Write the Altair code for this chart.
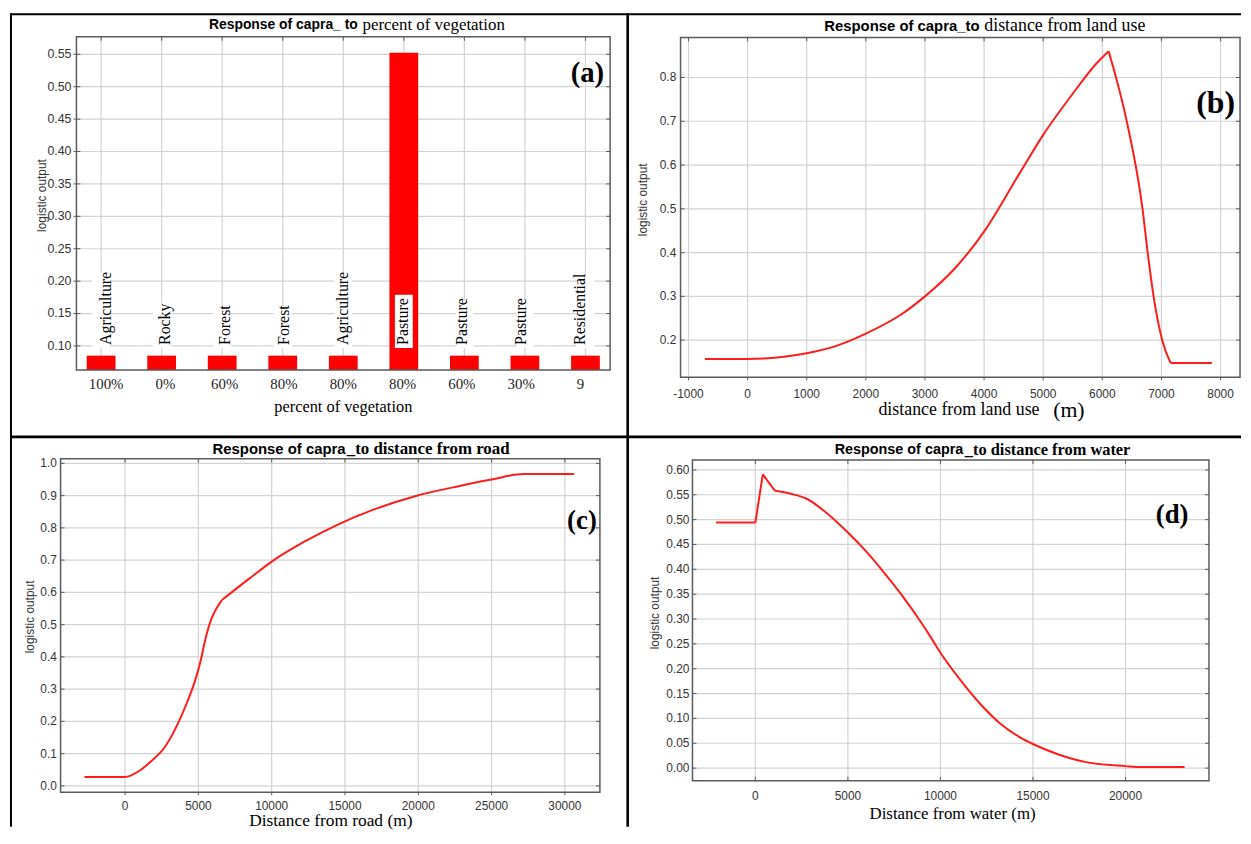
import altair as alt
import pandas as pd

# ------------------------------------------------------------------ data
A_TICK_LABELS = ["100%", "0%", "60%", "80%", "80%", "80%", "60%", "30%", "9"]
A_LAND_USE = ["Agriculture", "Rocky", "Forest", "Forest", "Agriculture",
              "Pasture", "Pasture", "Pasture", "Residential"]
A_VALUES = [0.085, 0.085, 0.085, 0.085, 0.085, 0.5525, 0.085, 0.085, 0.085]
A_BOX_TOPS = [0.214, 0.166, 0.161, 0.161, 0.214, 0.179, 0.171, 0.171, 0.207]
A_LABEL_BASE = 0.10
A_BOX_BASE = 0.097
A_Y_TICKS = [0.10, 0.15, 0.20, 0.25, 0.30, 0.35, 0.40, 0.45, 0.50, 0.55]

B_X = [-720, 0, 270, 1000, 1500, 2000, 2590, 3000, 3520, 4000, 4600, 5000,
       5500, 5900, 6107, 6413, 6680, 6767, 6867, 7013, 7153, 7853]
B_Y = [0.157, 0.157, 0.158, 0.170, 0.187, 0.215, 0.258, 0.300, 0.366, 0.448,
       0.581, 0.669, 0.763, 0.832, 0.860, 0.700, 0.500, 0.400, 0.300, 0.200,
       0.148, 0.148]
B_CORNERS = [6107, 7153]          # sharp bends seen in the curve
B_X_TICKS = [-1000, 0, 1000, 2000, 3000, 4000, 5000, 6000, 7000, 8000]
B_Y_TICKS = [0.2, 0.3, 0.4, 0.5, 0.6, 0.7, 0.8]

C_X = [-2770, 0, 950, 1790, 2740, 3560, 4240, 4780, 5190, 5400, 5730, 6603,
       8424, 10054, 12228, 14402, 16848, 19837, 22826, 25000, 27174, 30625]
C_Y = [0.0276, 0.0276, 0.046, 0.077, 0.122, 0.189, 0.260, 0.327, 0.395, 0.440,
       0.497, 0.576, 0.641, 0.697, 0.757, 0.808, 0.855, 0.899, 0.930, 0.950,
       0.967, 0.967]
C_CORNERS = [6603]
C_X_TICKS = [0, 5000, 10000, 15000, 20000, 25000, 30000]
C_Y_TICKS = [0.0, 0.1, 0.2, 0.3, 0.4, 0.5, 0.6, 0.7, 0.8, 0.9, 1.0]

D_X = [-2128, 0, 400, 1060, 1915, 2770, 3830, 5000, 5960, 6810, 7870, 8940,
       9500, 10000, 11060, 12130, 13190, 14250, 15020, 16380, 17870, 20000,
       20850, 23190]
D_Y = [0.494, 0.494, 0.591, 0.558, 0.552, 0.542, 0.514, 0.474, 0.437, 0.400,
       0.350, 0.294, 0.262, 0.232, 0.178, 0.130, 0.091, 0.063, 0.048, 0.0275,
       0.012, 0.004, 0.002, 0.002]
D_CORNERS = [0, 400, 1060]
D_X_TICKS = [0, 5000, 10000, 15000, 20000]
D_Y_TICKS = [0.00, 0.05, 0.10, 0.15, 0.20, 0.25, 0.30, 0.35, 0.40, 0.45,
             0.50, 0.55, 0.60]

TITLE_SANS = ["Response of capra_ to", "Response of capra_to",
              "Response of capra", "Response of capra"]
TITLE_SERIF = ["percent of vegetation", "distance from land use",
               "_to distance from road", "_to distance from water"]
PANEL_TAGS = ["(a)", "(b)", "(c)", "(d)"]
X_TITLES = ["percent of vegetation", "distance from land use",
            "Distance from road (m)", "Distance from water (m)"]
X_UNIT_B = "(m)"
Y_TITLE = "logistic output"

# ------------------------------------------------------------------ style
SANS = "Liberation Sans"
SERIF = "Liberation Serif"
RED = "#ff0000"
LINE_RED = "#ff1c1c"
GRID = "#d2d2d2"
FRAME = "#5a5a5a"
LABEL = "#333333"
O = 8  # page margin: all positions below are written in page pixels
ONE = pd.DataFrame({"k": [0]})


def V(v):
    return alt.value(v - O)


def qscale(domain, lo, hi):
    return alt.Scale(domain=domain, range=[lo - O, hi - O], nice=False,
                     zero=False, clamp=True)


def segments(xs, ys, corners):
    """Split a curve at its sharp bends so each piece can be smoothed."""
    bounds = [xs[0]] + list(corners) + [xs[-1]]
    rows = []
    for s in range(len(bounds) - 1):
        for x, y in zip(xs, ys):
            if bounds[s] <= x <= bounds[s + 1]:
                rows.append({"x": x, "y": y, "seg": s})
    return pd.DataFrame(rows)


def curve(xs, ys, corners, xscale, yscale):
    return alt.Chart(segments(xs, ys, corners)).mark_line(
        color=LINE_RED, strokeWidth=2, interpolate="monotone").encode(
        x=alt.X("x:Q", scale=xscale, axis=None),
        y=alt.Y("y:Q", scale=yscale, axis=None),
        detail="seg:N", order="x:Q")


def text(t, x, y, font, size, weight="normal", align="center", angle=0,
         color="black"):
    return alt.Chart(pd.DataFrame({"t": [t]})).mark_text(
        font=font, fontSize=size, fontWeight=weight, align=align,
        baseline="middle", angle=angle, color=color
    ).encode(x=V(x), y=V(y), text="t:N")


def vline(x, y1, y2, w, color="black"):
    return alt.Chart(ONE).mark_rule(color=color, strokeWidth=w).encode(
        x=V(x), y=V(y1), y2=V(y2))


def hline(y, x1, x2, w, color="black"):
    return alt.Chart(ONE).mark_rule(color=color, strokeWidth=w).encode(
        y=V(y), x=V(x1), x2=V(x2))


def frame(x0, x1, y0, y1):
    return alt.Chart(ONE).mark_rect(filled=False, color=FRAME, strokeWidth=1.5).encode(
        x=V(x0), x2=V(x1), y=V(y0), y2=V(y1))


def vgrid(values, typ, scale, y0, y1, color=GRID, w=1.2):
    return alt.Chart(pd.DataFrame({"v": values})).mark_rule(color=color, strokeWidth=w).encode(
        x=alt.X("v:" + typ, scale=scale, axis=None), y=V(y0), y2=V(y1))


def hgrid(values, scale, x0, x1, color=GRID, w=1.2):
    return alt.Chart(pd.DataFrame({"v": values})).mark_rule(color=color, strokeWidth=w).encode(
        y=alt.Y("v:Q", scale=scale, axis=None), x=V(x0), x2=V(x1))


def xlabels(values, labels, typ, scale, y, font=SANS, size=12, color=LABEL):
    return alt.Chart(pd.DataFrame({"v": values, "lab": labels})).mark_text(
        font=font, fontSize=size, color=color, baseline="middle", align="center"
    ).encode(x=alt.X("v:" + typ, scale=scale, axis=None), y=V(y), text="lab:N")


def ylabels(values, labels, scale, x_right, size=12):
    return alt.Chart(pd.DataFrame({"v": values, "lab": labels})).mark_text(
        font=SANS, fontSize=size, color=LABEL, baseline="middle", align="right"
    ).encode(y=alt.Y("v:Q", scale=scale, axis=None), x=V(x_right), text="lab:N")


def fmt(values, pattern):
    return [pattern.format(v) for v in values]


layers = []

# ------------------------------------------------------------------ panel a
AX0, AX1, AY0, AY1 = 75, 613, 31.7, 367.7
a_df = pd.DataFrame({"idx": list(range(1, 10)), "value": A_VALUES,
                     "land": A_LAND_USE, "box_top": A_BOX_TOPS})
a_df["base"] = A_LABEL_BASE
a_df["box_base"] = A_BOX_BASE
axs = alt.Scale(domain=list(range(1, 10)), range=[AX0 - O, AX1 - O],
                paddingInner=0.525, paddingOuter=0.17)
ays = qscale([0.0627, 0.577], AY1, AY0)

layers += [
    vgrid(list(range(1, 10)), "O", axs, AY0, AY1),
    hgrid(A_Y_TICKS, ays, AX0, AX1),
    alt.Chart(a_df).mark_bar(color=RED).encode(
        x=alt.X("idx:O", scale=axs, axis=None),
        y=alt.Y("value:Q", scale=ays, axis=None)),
    alt.Chart(a_df).mark_bar(color="white", size=18).encode(
        x=alt.X("idx:O", scale=axs, axis=None),
        y=alt.Y("box_top:Q", scale=ays, axis=None), y2="box_base:Q"),
    alt.Chart(a_df).mark_text(angle=270, align="left", baseline="middle",
                              font=SERIF, fontSize=16, color="black", dx=1).encode(
        x=alt.X("idx:O", scale=axs, axis=None),
        y=alt.Y("base:Q", scale=ays, axis=None), text="land:N"),
    frame(AX0, AX1, AY0, AY1),
    vgrid(list(range(1, 10)), "O", axs, AY0, AY0 + 4, FRAME, 1),
    hgrid(A_Y_TICKS, ays, AX0 - 3, AX0 + 4, FRAME, 1),
    hgrid(A_Y_TICKS, ays, AX1 - 4, AX1, FRAME, 1),
    xlabels(list(range(1, 10)), A_TICK_LABELS, "O", axs, 381.7, SERIF, 15, "#222"),
    ylabels(A_Y_TICKS, fmt(A_Y_TICKS, "{:.2f}"), ays, 70, 12.5),
    text(TITLE_SANS[0], 358.6, 20, SANS, 14, "bold", "right"),
    text(TITLE_SERIF[0], 363.4, 20, SERIF, 17, "normal", "left"),
    text(PANEL_TAGS[0], 607, 68, SERIF, 29, "bold", "right"),
    text(Y_TITLE, 40, 191.7, SANS, 12, "normal", "center", 270, LABEL),
    text(X_TITLES[0], 344, 405, SERIF, 16.5),
]

# ------------------------------------------------------------------ panel b
BX0, BX1, BY0, BY1 = 684, 1248, 32.3, 375
bxs = qscale([-1134, 8329], BX0, BX1)
bys = qscale([0.115, 0.8916], BY1, BY0)
layers += [
    vgrid(B_X_TICKS, "Q", bxs, BY0, BY1),
    hgrid(B_Y_TICKS, bys, BX0, BX1),
    curve(B_X, B_Y, B_CORNERS, bxs, bys),
    frame(BX0, BX1, BY0, BY1),
    vgrid(B_X_TICKS, "Q", bxs, BY0, BY0 + 4, FRAME, 1),
    vgrid(B_X_TICKS, "Q", bxs, BY1, BY1 + 3, FRAME, 1),
    hgrid(B_Y_TICKS, bys, BX0, BX0 + 4, FRAME, 1),
    hgrid(B_Y_TICKS, bys, BX1 - 4, BX1, FRAME, 1),
    xlabels(B_X_TICKS, [str(v) for v in B_X_TICKS], "Q", bxs, 391.7),
    ylabels(B_Y_TICKS, fmt(B_Y_TICKS, "{:.1f}"), bys, 679.7),
    text(TITLE_SANS[1], 985.4, 20.7, SANS, 15, "bold", "right"),
    text(TITLE_SERIF[1], 990.2, 20.7, SERIF, 18, "normal", "left"),
    text(PANEL_TAGS[1], 1243, 99, SERIF, 32, "bold", "right"),
    text(Y_TITLE, 646.5, 196, SANS, 12, "normal", "center", 270, LABEL),
    text(X_TITLES[1], 883.5, 408.3, SERIF, 18, "normal", "left"),
    text(X_UNIT_B, 1059.6, 408.3, SERIF, 22, "normal", "left"),
]

# ------------------------------------------------------------------ panel c
CX0, CX1, CY0, CY1 = 59, 602.7, 457, 793.3
cxs = qscale([-4400, 32390], CX0, CX1)
cys = qscale([-0.02, 1.0145], CY1, CY0)
layers += [
    vgrid(C_X_TICKS, "Q", cxs, CY0, CY1),
    hgrid(C_Y_TICKS, cys, CX0, CX1),
    curve(C_X, C_Y, C_CORNERS, cxs, cys),
    frame(CX0, CX1, CY0, CY1),
    vgrid(C_X_TICKS, "Q", cxs, CY0, CY0 + 4, FRAME, 1),
    vgrid(C_X_TICKS, "Q", cxs, CY1, CY1 + 3, FRAME, 1),
    hgrid(C_Y_TICKS, cys, CX0, CX0 + 4, FRAME, 1),
    hgrid(C_Y_TICKS, cys, CX1 - 4, CX1, FRAME, 1),
    xlabels(C_X_TICKS, [str(v) for v in C_X_TICKS], "Q", cxs, 806.7),
    ylabels(C_Y_TICKS, fmt(C_Y_TICKS, "{:.1f}"), cys, 55.3),
    text(TITLE_SANS[2], 346.3, 447.7, SANS, 15, "bold", "right"),
    text(TITLE_SERIF[2], 347.5, 447.7, SERIF, 17, "bold", "left"),
    text(PANEL_TAGS[2], 599.6, 520, SERIF, 27, "bold", "right"),
    text(Y_TITLE, 27.9, 616.5, SANS, 12, "normal", "center", 270, LABEL),
    text(X_TITLES[2], 331.4, 822.5, SERIF, 17.5),
]

# ------------------------------------------------------------------ panel d
DX0, DX1, DY0, DY1 = 696, 1216.7, 458.3, 781.7
dxs = qscale([-3400, 24510], DX0, DX1)
dys = qscale([-0.0255, 0.62], DY1, DY0)
layers += [
    vgrid(D_X_TICKS, "Q", dxs, DY0, DY1),
    hgrid(D_Y_TICKS, dys, DX0, DX1),
    curve(D_X, D_Y, D_CORNERS, dxs, dys),
    frame(DX0, DX1, DY0, DY1),
    vgrid(D_X_TICKS, "Q", dxs, DY0, DY0 + 4, FRAME, 1),
    vgrid(D_X_TICKS, "Q", dxs, DY1 - 4, DY1, FRAME, 1),
    hgrid(D_Y_TICKS, dys, DX0, DX0 + 4, FRAME, 1),
    hgrid(D_Y_TICKS, dys, DX1 - 4, DX1, FRAME, 1),
    xlabels(D_X_TICKS, [str(v) for v in D_X_TICKS], "Q", dxs, 796.7),
    ylabels(D_Y_TICKS, fmt(D_Y_TICKS, "{:.2f}"), dys, 693),
    text(TITLE_SANS[3], 969, 448.3, SANS, 14.5, "bold", "right"),
    text(TITLE_SERIF[3], 970.6, 448.3, SERIF, 16.5, "bold", "left"),
    text(PANEL_TAGS[3], 1196, 514, SERIF, 27, "bold", "right"),
    text(Y_TITLE, 658.2, 612.5, SANS, 12, "normal", "center", 270, LABEL),
    text(X_TITLES[3], 958.2, 815, SERIF, 17),
]

# ------------------------------------------------------------------ borders
layers += [
    vline(9, 8, 828, 2),          # outer left
    hline(9, 8, 1249, 2),         # outer top
    vline(630.7, 8, 828, 2.6),    # column divider
    hline(435, 8, 1249, 3),       # row divider
]

chart = alt.layer(*layers).resolve_scale(
    x="independent", y="independent"
).properties(
    width=1241, height=820, padding=0
).configure_view(stroke="transparent")

chart.save("out.html", embed_options={"renderer": "svg", "actions": False})
